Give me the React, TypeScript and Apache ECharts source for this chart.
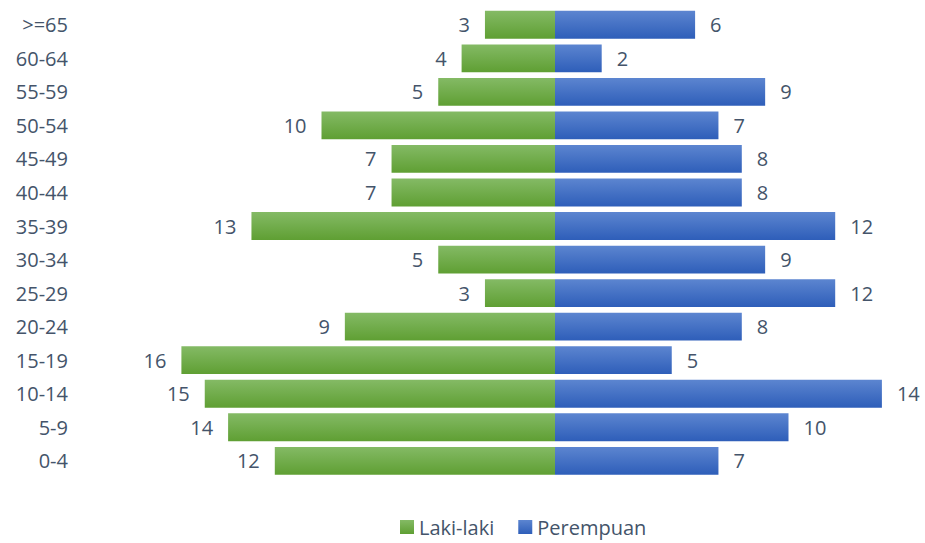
import React, { useEffect, useRef } from "react";
import * as echarts from "echarts";

const categories = ["0-4", "5-9", "10-14", "15-19", "20-24", "25-29", "30-34", "35-39", "40-44", "45-49", "50-54", "55-59", "60-64", ">=65"];
const maleValues = [12, 14, 15, 16, 9, 3, 5, 13, 7, 7, 10, 5, 4, 3];
const femaleValues = [7, 10, 14, 5, 8, 12, 9, 12, 8, 8, 7, 9, 2, 6];
const seriesNames = ["Laki-laki", "Perempuan"];

const TEXT = "#44546A";
const FONT = "'Open Sans', 'Noto Sans', sans-serif";

export default function App() {
  const ref = useRef<HTMLDivElement>(null);
  useEffect(() => {
    if (!ref.current) return;
    const chart = echarts.init(ref.current, undefined, { renderer: "svg" });
    const green = new echarts.graphic.LinearGradient(0, 0, 0, 1, [
      { offset: 0, color: "#84BA65" },
      { offset: 1, color: "#5F9F33" },
    ]);
    const blue = new echarts.graphic.LinearGradient(0, 0, 0, 1, [
      { offset: 0, color: "#5C85D0" },
      { offset: 1, color: "#2E5EB9" },
    ]);
    chart.setOption({
      animation: false,
      textStyle: { fontFamily: FONT, color: TEXT },
      grid: { left: 88, right: 19.75, top: 8, bottom: 65.4, containLabel: false },
      xAxis: {
        type: "value",
        min: -20,
        max: 15,
        show: false,
      },
      yAxis: {
        type: "category",
        data: categories,
        axisLine: { show: false },
        axisTick: { show: false },
        axisLabel: { color: TEXT, fontSize: 20, fontFamily: FONT, margin: 20 },
      },
      legend: {
        left: 395,
        top: 512,
        padding: 5,
        icon: "rect",
        itemWidth: 14,
        itemHeight: 14,
        itemGap: 24,
        textStyle: { color: TEXT, fontSize: 20, fontFamily: FONT },
        data: seriesNames,
      },
      series: [
        {
          name: seriesNames[0],
          type: "bar",
          stack: "total",
          barCategoryGap: "17%",
          data: maleValues.map((v) => -v),
          itemStyle: { color: green },
          label: {
            show: true,
            position: "left",
            distance: 15,
            color: TEXT,
            fontSize: 20,
            fontFamily: FONT,
            formatter: (p: any) => String(Math.abs(p.value)),
          },
        },
        {
          name: seriesNames[1],
          type: "bar",
          stack: "total",
          barCategoryGap: "17%",
          data: femaleValues,
          itemStyle: { color: blue },
          label: {
            show: true,
            position: "right",
            distance: 15,
            color: TEXT,
            fontSize: 20,
            fontFamily: FONT,
          },
        },
      ],
    });
    return () => chart.dispose();
  }, []);
  return (
    <div
      ref={ref}
      style={{ position: "fixed", left: 0, top: 0, width: 925, height: 543, background: "#fff" }}
    />
  );
}
